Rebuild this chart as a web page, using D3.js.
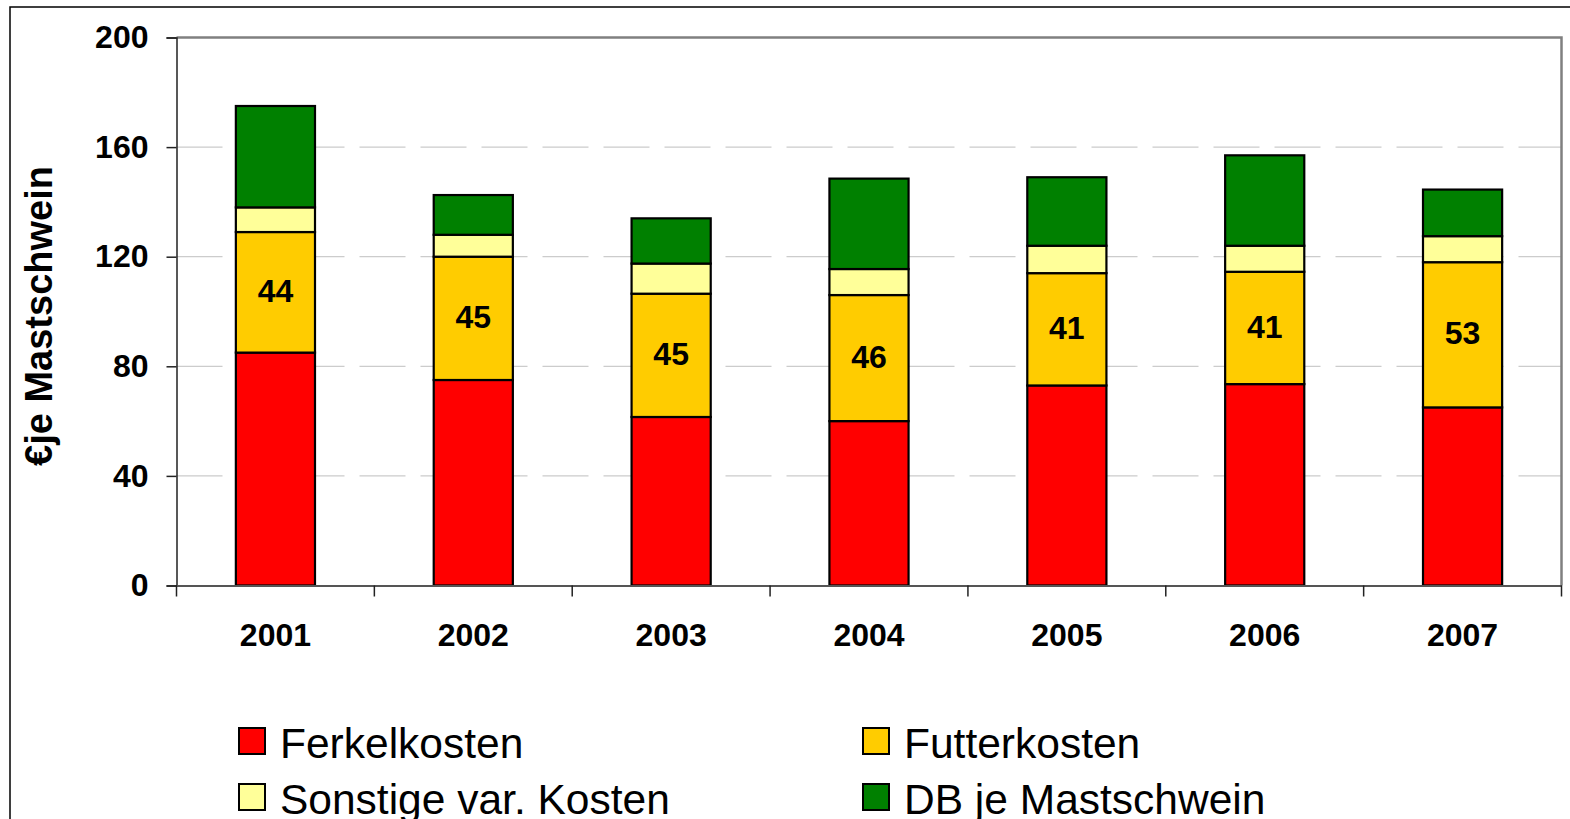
<!DOCTYPE html>
<html><head><meta charset="utf-8">
<script src="https://cdn.jsdelivr.net/npm/d3@7"></script>
<style>html,body{margin:0;padding:0;background:#fff;overflow:hidden}</style>
</head><body>
<svg id="c" width="1570" height="819"></svg>
<script>
const years = ["2001","2002","2003","2004","2005","2006","2007"];
const ferkelkosten = [85, 75, 61.5, 60, 73, 73.5, 65];
const futterkosten = [44, 45, 45, 46, 41, 41, 53];
const sonstige = [9, 8, 11, 9.5, 10, 9.5, 9.5];
const dbJeMastschwein = [37, 14.5, 16.5, 33, 25, 33, 17];
const seriesNames = ["Ferkelkosten","Futterkosten","Sonstige var. Kosten","DB je Mastschwein"];
const seriesColors = ["#FF0000","#FFCC00","#FFFF99","#008000"];
const yTicks = [0,40,80,120,160,200];

const svg = d3.select("#c");
const font = "'Liberation Sans', Arial, sans-serif";
const L=176.5, R=1561.5, T=37.5, B=585.5;

// outer frame
svg.append("rect").attr("x",10).attr("y",7).attr("width",1600).attr("height",900)
  .attr("fill","none").attr("stroke","#000").attr("stroke-width",1.5);

const x = d3.scaleBand().domain(years).range([L,R]).paddingInner(0.6).paddingOuter(0.3);
const xb = d3.scaleBand().domain(years).range([L,R]);
const y = d3.scaleLinear().domain([0,200]).range([B,T]);

// gridlines
svg.append("g").selectAll("line").data(yTicks.filter(d=>d>0&&d<200)).join("line")
  .attr("x1",L).attr("x2",R).attr("y1",d=>y(d)).attr("y2",d=>y(d))
  .attr("stroke","#cccccc").attr("stroke-width",1.3).attr("stroke-dasharray","46,15");

// plot border top/right
svg.append("path").attr("d",`M${L},${T}H${R}V${B}`).attr("fill","none")
  .attr("stroke","#808080").attr("stroke-width",2.5);

// stacked data
const rows = years.map((yr,i)=>({year:yr, s0:ferkelkosten[i], s1:futterkosten[i], s2:sonstige[i], s3:dbJeMastschwein[i]}));
const stack = d3.stack().keys(["s0","s1","s2","s3"])(rows);

svg.append("g").selectAll("g").data(stack).join("g")
  .attr("fill",(d,i)=>seriesColors[i])
  .selectAll("rect").data(d=>d).join("rect")
  .attr("x",d=>x(d.data.year)).attr("width",x.bandwidth())
  .attr("y",d=>y(d[1])).attr("height",d=>y(d[0])-y(d[1]))
  .attr("stroke","#000").attr("stroke-width",2.2);

// labels in Futterkosten segment
svg.append("g").selectAll("text").data(stack[1]).join("text")
  .attr("x",d=>x(d.data.year)+x.bandwidth()/2)
  .attr("y",d=>(y(d[0])+y(d[1]))/2)
  .attr("dy","0.3em").attr("text-anchor","middle")
  .attr("font-family",font).attr("font-weight","bold").attr("font-size",32)
  .text((d,i)=>futterkosten[i]);

// y axis
const yAxis = svg.append("g").attr("transform",`translate(${L},0)`)
  .call(d3.axisLeft(y).tickValues(yTicks).tickSize(10).tickPadding(18));
yAxis.select(".domain").attr("stroke","#222").attr("stroke-width",1.5);
yAxis.selectAll(".tick line").attr("stroke","#222").attr("stroke-width",1.5);
yAxis.selectAll("text").attr("font-family",font).attr("font-weight","bold").attr("font-size",32).attr("fill","#000");

// x axis
const xAxis = svg.append("g").attr("transform",`translate(0,${B})`)
  .call(d3.axisBottom(xb).tickSize(0).tickPadding(38));
xAxis.select(".domain").attr("stroke","#555").attr("stroke-width",2);
xAxis.selectAll("text").attr("font-family",font).attr("font-weight","bold").attr("font-size",32).attr("fill","#000");
// boundary ticks
const bounds = years.map(d=>xb(d)).concat([R]);
svg.append("g").selectAll("line").data(bounds).join("line")
  .attr("x1",d=>d).attr("x2",d=>d).attr("y1",B).attr("y2",B+11)
  .attr("stroke","#222").attr("stroke-width",1.5);

// y title
svg.append("text").attr("transform",`translate(52,316) rotate(-90)`)
  .attr("text-anchor","middle").attr("font-family",font).attr("font-weight","bold").attr("font-size",38)
  .text("€je Mastschwein");

// legend
const legPos = [[239,728],[863,728],[239,784],[863,784]];
const legOrder = [0,1,2,3];
const lg = svg.append("g").selectAll("g").data(legOrder).join("g")
  .attr("transform",(d,i)=>`translate(${legPos[i][0]},${legPos[i][1]})`);
lg.append("rect").attr("width",26).attr("height",26).attr("fill",d=>seriesColors[d])
  .attr("stroke","#000").attr("stroke-width",2);
lg.append("text").attr("x",41).attr("y",30).attr("font-family",font).attr("font-size",42.5)
  .attr("fill","#000").text(d=>seriesNames[d]);
</script>
</body></html>
